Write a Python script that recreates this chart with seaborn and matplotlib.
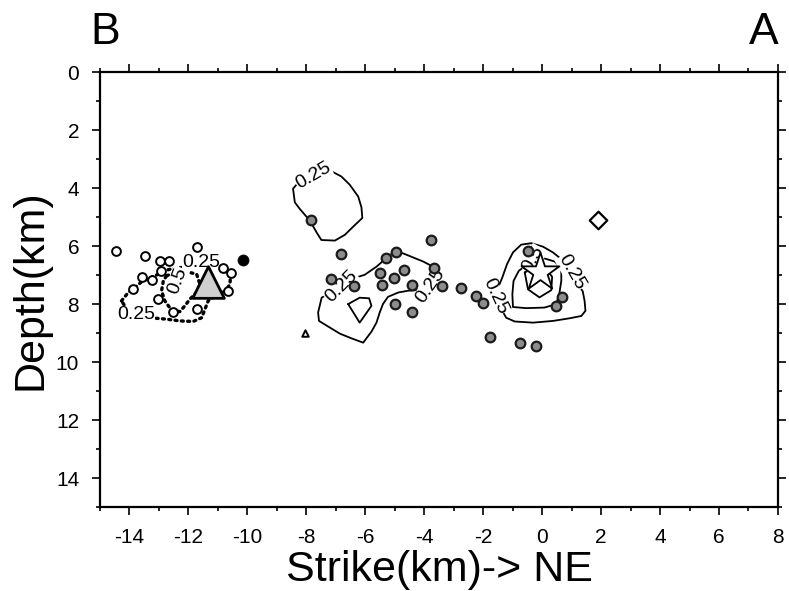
import numpy as np
import pandas as pd
import matplotlib
matplotlib.use("Agg")
import matplotlib.pyplot as plt
from matplotlib.ticker import MultipleLocator
import seaborn as sns

# --- Hypocentres (strike km, depth km) ---
quake_x = [-10.16, -7.85, -6.81, -7.17, -6.39, -5.28, -4.97, -5.51, -5.03, -4.69,
           -5.42, -4.40, -5.00, -4.40, -3.76, -3.68, -3.38, -2.74, -2.23, -2.00,
           -0.48, 0.68, 0.46, -1.76, -0.74, -0.20]
quake_z = [6.48, 5.10, 6.27, 7.12, 7.37, 6.41, 6.19, 6.94, 7.10, 6.83,
           7.34, 7.34, 7.98, 8.29, 5.79, 6.74, 7.37, 7.45, 7.72, 7.95,
           6.16, 7.75, 8.06, 9.13, 9.33, 9.45]

# Earlier sequence (open circles)
old_x = [-14.46, -11.72, -13.47, -12.97, -12.65, -12.93, -13.59, -13.25, -10.82,
         -10.54, -13.87, -13.02, -10.65, -12.51, -11.70]
old_z = [6.18, 6.02, 6.33, 6.53, 6.50, 6.87, 7.06, 7.17, 6.74,
         6.93, 7.49, 7.83, 7.54, 8.26, 8.18]

# Special symbols
star_x, star_z = [-0.08], [6.91]
tri_x, tri_z = [-11.33], [7.25]
dia_x, dia_z = [1.89], [5.10]
small_x, small_z = [-8.05], [8.99]

# --- Slip contours (strike km, depth km) ---
c_upper_x = [-7.32, -7.09, -6.81, -6.53, -6.24, -6.13, -6.10, -6.41, -6.69, -7.03,
             -7.49, -7.65, -7.88, -8.22, -8.39, -8.45, -8.33]
c_upper_z = [3.42, 3.45, 3.60, 3.88, 4.29, 4.66, 5.03, 5.33, 5.61, 5.81,
             5.79, 5.53, 5.12, 4.72, 4.49, 4.02, 3.88]

c_mid_x = [-6.24, -6.02, -5.62, -5.28, -5.00, -4.72, -4.38, -4.04, -3.70, -3.57,
           -3.60, -4.27, -4.55, -4.88, -5.23, -5.40, -5.51, -5.62, -5.79, -6.07,
           -6.47, -6.86, -7.20, -7.57, -7.60, -7.48, -7.32]
c_mid_z = [7.06, 6.99, 6.71, 6.41, 6.19, 6.25, 6.39, 6.53, 6.71, 6.91,
           7.25, 7.52, 7.54, 7.60, 7.75, 8.00, 8.29, 8.64, 8.95, 9.33,
           9.18, 9.02, 8.81, 8.58, 8.29, 7.78, 7.68]

c_mid_in_x = [-6.58, -6.19, -5.87, -5.79, -6.19]
c_mid_in_z = [8.00, 7.78, 7.80, 8.06, 8.64]

c_right_x = [-1.44, -1.38, -1.22, -0.93, -0.31, 0.37, 0.93, 1.33, 1.47, 1.44,
             1.38, 0.99, 0.65, 0.37, 0.03, -0.37, -0.71, -0.99, -1.19, -1.35, -1.50]
c_right_z = [7.89, 8.18, 8.47, 8.60, 8.64, 8.58, 8.49, 8.41, 8.23, 7.89,
             7.57, 6.91, 6.45, 6.22, 6.02, 5.90, 5.95, 6.22, 6.62, 7.08, 7.45]

c_right_mid_x = [0.03, 0.42, 0.65, 0.65, 0.59, 0.48, 0.08, -0.54, -0.99, -1.01,
                 -0.97, -0.79, -0.56]
c_right_mid_z = [6.41, 6.53, 6.74, 7.20, 7.60, 8.00, 8.12, 8.14, 8.10, 7.66,
                 7.20, 6.85, 6.68]

c_right_in_x = [-0.59, -0.48, -0.09, 0.31, 0.34, 0.14, -0.26]
c_right_in_z = [6.91, 7.49, 7.77, 7.52, 7.06, 6.79, 6.74]

# Dotted contours of the earlier sequence
d_out_x = [-14.27, -14.04, -13.81, -13.59, -13.31, -13.02, -12.74, -12.40, -11.10,
           -10.82, -10.57, -10.59, -10.73, -11.10, -11.33, -11.44, -11.55, -11.84,
           -12.29, -12.74, -13.08, -13.60, -14.10]
d_out_z = [7.89, 7.60, 7.43, 7.23, 7.10, 6.97, 6.83, 6.74, 6.74,
           6.83, 6.99, 7.31, 7.54, 7.72, 7.89, 8.18, 8.47, 8.60,
           8.58, 8.52, 8.49, 8.40, 8.15]
d_in_x = [-12.74, -12.18, -11.72, -11.61, -11.72, -11.95, -12.12, -12.29, -12.57,
          -12.80, -12.91, -12.85]
d_in_z = [7.02, 6.85, 6.97, 7.31, 7.60, 7.83, 8.06, 8.26, 8.21,
          7.89, 7.54, 7.20]

# Contour labels: (x, depth, text, rotation)
label_x = [-7.77, -6.81, -3.79, 0.99, -1.60, -0.29, -11.55, -13.78, -12.38]
label_z = [3.56, 7.40, 7.37, 6.91, 7.72, 6.45, 6.56, 8.35, 7.20]
label_txt = ["0.25", "0.25", "0.25", "0.25", "0.25", "0.5", "0.25", "0.25", "0.5"]
label_rot = [30, 45, 55, -60, -65, 60, 0, 0, 70]

xticks = list(range(-14, 9, 2))
yticks = list(range(0, 15, 2))

sns.set_theme(style="ticks")
plt.rcParams["font.family"] = ["Liberation Sans", "DejaVu Sans"]
plt.rcParams["axes.unicode_minus"] = False
plt.rcParams["text.color"] = "black"
plt.rcParams["axes.labelcolor"] = "black"

fig = plt.figure(figsize=(7.89, 5.91), dpi=100)
ax = fig.add_axes([0.1267, 0.142, 0.8593, 0.736])


def closed(xs, zs):
    return pd.DataFrame({"x": list(xs) + [xs[0]], "z": list(zs) + [zs[0]],
                         "i": range(len(xs) + 1)})


solid = [(c_upper_x, c_upper_z), (c_mid_x, c_mid_z), (c_mid_in_x, c_mid_in_z),
         (c_right_x, c_right_z), (c_right_mid_x, c_right_mid_z),
         (c_right_in_x, c_right_in_z)]
for xs, zs in solid:
    sns.lineplot(data=closed(xs, zs), x="x", y="z", sort=False, estimator=None,
                 color="black", lw=1.3, ax=ax, zorder=2)

for xs, zs in [(d_out_x, d_out_z), (d_in_x, d_in_z)]:
    sns.lineplot(data=closed(xs, zs), x="x", y="z", sort=False, estimator=None,
                 color="black", lw=2.4, ax=ax, zorder=2,
                 linestyle=(0, (0.6, 1.3)), dash_capstyle="round")

for x, z, t, r in zip(label_x, label_z, label_txt, label_rot):
    ax.text(x, z, t, rotation=r, ha="center", va="center", fontsize=14,
            rotation_mode="anchor", zorder=3, color="black",
            bbox=dict(facecolor="white", edgecolor="none", pad=0.2))

sns.scatterplot(x=old_x, y=old_z, marker="o", s=40, facecolor="white",
                edgecolor="black", linewidth=1.4, ax=ax, zorder=4)
sns.scatterplot(x=quake_x, y=quake_z, marker="o", s=48, facecolor="#8c8c8c",
                edgecolor="#1a1a1a", linewidth=1.6, ax=ax, zorder=4)
sns.scatterplot(x=[quake_x[0]], y=[quake_z[0]], marker="o", s=48,
                facecolor="black", edgecolor="black", ax=ax, zorder=5)
sns.scatterplot(x=star_x, y=star_z, marker="*", s=820, facecolor="white",
                edgecolor="black", linewidth=1.3, ax=ax, zorder=6)
sns.scatterplot(x=tri_x, y=tri_z, marker="^", s=520, facecolor="#cfcfcf",
                edgecolor="black", linewidth=2.0, ax=ax, zorder=6)
sns.scatterplot(x=dia_x, y=dia_z, marker="D", s=80, facecolor="white",
                edgecolor="black", linewidth=1.6, ax=ax, zorder=6)
sns.scatterplot(x=small_x, y=small_z, marker="^", s=22, facecolor="white",
                edgecolor="black", linewidth=1.4, ax=ax, zorder=6)

ax.set_xlim(-15, 8)
ax.set_ylim(15, 0)
ax.set_xticks(xticks)
ax.set_yticks(yticks)
ax.xaxis.set_minor_locator(MultipleLocator(1))
ax.yaxis.set_minor_locator(MultipleLocator(1))
ax.tick_params(which="both", direction="out", top=True, right=True,
               labeltop=False, labelright=False, width=1.2, colors="black",
               labelsize=15)
ax.tick_params(which="major", length=6)
ax.tick_params(which="minor", length=3)
ax.tick_params(axis="x", which="major", pad=9)
ax.tick_params(axis="y", which="major", pad=9)
for sp in ax.spines.values():
    sp.set_linewidth(1.6)
    sp.set_color("black")

ax.set_xlabel("Strike(km)-> NE", fontsize=31, labelpad=2, color="black")
ax.set_ylabel("Depth(km)", fontsize=31, labelpad=4, color="black")

fig.text(0.134, 0.945, "B", fontsize=32, ha="center", va="center", color="black")
fig.text(0.968, 0.945, "A", fontsize=32, ha="center", va="center", color="black")

fig.savefig("out.png", dpi=100, facecolor="white")
